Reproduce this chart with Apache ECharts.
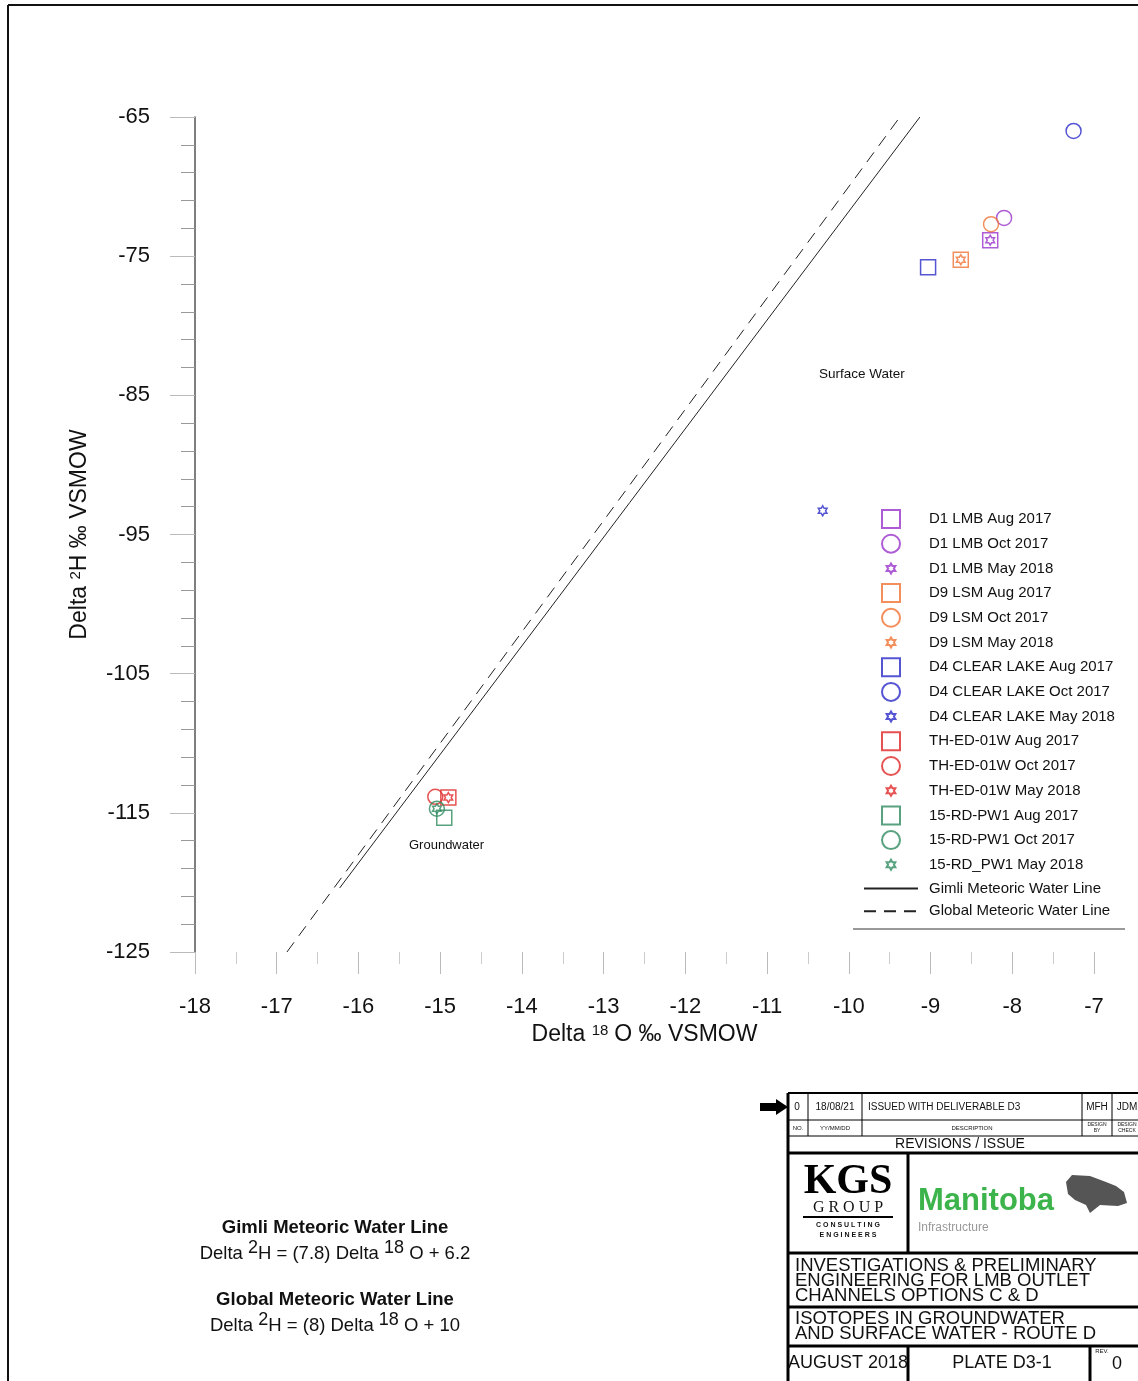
<!DOCTYPE html>
<html>
<head>
<meta charset="utf-8">
<script src="https://cdn.jsdelivr.net/npm/echarts@6/dist/echarts.min.js"></script>
<style>
html,body{margin:0;padding:0;background:#fff;}
#chart{width:1138px;height:1381px;}
</style>
</head>
<body>
<div id="chart"></div>
<script>
// ---- axis ticks ----
const xTicks = [-18, -17, -16, -15, -14, -13, -12, -11, -10, -9, -8, -7];
const yTicks = [-125, -115, -105, -95, -85, -75, -65];

// ---- data (Delta 18O, Delta 2H) ----
const d1LmbAug2017 = [[-8.27, -73.85]];
const d1LmbOct2017 = [[-8.10, -72.25]];
const d1LmbMay2018 = [[-8.27, -73.85]];
const d9LsmAug2017 = [[-8.63, -75.25]];
const d9LsmOct2017 = [[-8.26, -72.70]];
const d9LsmMay2018 = [[-8.63, -75.25]];
const d4ClearAug2017 = [[-9.03, -75.80]];
const d4ClearOct2017 = [[-7.25, -66.00]];
const d4ClearMay2018 = [[-10.32, -93.30]];
const thAug2017 = [[-14.90, -113.90]];
const thOct2017 = [[-15.06, -113.85]];
const thMay2018 = [[-14.90, -113.90]];
const rdAug2017 = [[-14.95, -115.35]];
const rdOct2017 = [[-15.04, -114.70]];
const rdMay2018 = [[-15.04, -114.70]];
const gimliLine = [[-16.23, -120.40], [-9.13, -65.00]];
const globalLine = [[-16.875, -125.00], [-9.375, -65.00]];

const seriesNames = [
  'D1 LMB Aug 2017','D1 LMB Oct 2017','D1 LMB May 2018',
  'D9 LSM Aug 2017','D9 LSM Oct 2017','D9 LSM May 2018',
  'D4 CLEAR LAKE Aug 2017','D4 CLEAR LAKE Oct 2017','D4 CLEAR LAKE May 2018',
  'TH-ED-01W Aug 2017','TH-ED-01W Oct 2017','TH-ED-01W May 2018',
  '15-RD-PW1 Aug 2017','15-RD-PW1 Oct 2017','15-RD_PW1 May 2018',
  'Gimli Meteoric Water Line','Global Meteoric Water Line'
];
const pointData = [
  d1LmbAug2017, d1LmbOct2017, d1LmbMay2018,
  d9LsmAug2017, d9LsmOct2017, d9LsmMay2018,
  d4ClearAug2017, d4ClearOct2017, d4ClearMay2018,
  thAug2017, thOct2017, thMay2018,
  rdAug2017, rdOct2017, rdMay2018
];

// ---- styles ----
const siteColors = ['#9933CC', '#F07235', '#2B2BC8', '#E02626', '#2E8B5F'];
const SQUARE = 'path://M0 0 L100 0 L100 100 L0 100 Z';
const STAR = 'path://M-80 -80 M280 280 M100 0 L128.87 50 L186.6 50 L157.7 100 L186.6 150 L128.87 150 L100 200 L71.13 150 L13.4 150 L42.3 100 L13.4 50 L71.13 50 Z';
const symbols = [SQUARE, 'circle', STAR];
const sizes = [15, 15, 18];

const series = [];
pointData.forEach((d, i) => {
  const site = Math.floor(i / 3), kind = i % 3;
  series.push({
    name: seriesNames[i],
    type: 'scatter',
    data: d,
    symbol: symbols[kind],
    symbolSize: sizes[kind],
    symbolKeepAspect: true,
    itemStyle: { color: 'rgba(0,0,0,0)', borderColor: siteColors[site], borderWidth: 1.5 },
    emphasis: { disabled: true },
    z: 5
  });
});
const hiddenSym = { color: 'rgba(0,0,0,0)', borderColor: 'rgba(0,0,0,0)', borderWidth: 0 };
series.push({
  name: seriesNames[15], type: 'line', data: gimliLine, symbol: 'none', showSymbol: false,
  itemStyle: hiddenSym,
  lineStyle: { color: '#222', width: 1, type: 'solid' }, emphasis: { disabled: true }, z: 3
});
series.push({
  name: seriesNames[16], type: 'line', data: globalLine, symbol: 'none', showSymbol: false,
  itemStyle: hiddenSym,
  lineStyle: { color: '#222', width: 1, type: [12, 8] }, emphasis: { disabled: true }, z: 3
});

const FONT = 'Liberation Sans';
const chart = echarts.init(document.getElementById('chart'), null, { renderer: 'canvas' });

const graphics = [
  // page border
  { type: 'line', shape: { x1: 8, y1: 5, x2: 1138, y2: 5 }, style: { stroke: '#111', lineWidth: 2 } },
  { type: 'line', shape: { x1: 8, y1: 5, x2: 8, y2: 1381 }, style: { stroke: '#111', lineWidth: 2 } },
  // annotation labels
  { type: 'text', left: 819, top: 367, style: { text: 'Surface Water', font: '13.5px ' + FONT, fill: '#111' } },
  { type: 'text', left: 409, top: 839, style: { text: 'Groundwater', font: '13px ' + FONT, fill: '#111' } },
  // legend bottom rule
  { type: 'line', shape: { x1: 853, y1: 929, x2: 1125, y2: 929 }, style: { stroke: '#777', lineWidth: 1.5 } },
  // equations
  { type: 'text', x: 335, y: 1228, style: { text: 'Gimli Meteoric Water Line', font: 'bold 18.5px ' + FONT, fill: '#111', textAlign: 'center', textVerticalAlign: 'middle' } },
  { type: 'text', x: 335, y: 1254, style: {
      text: 'Delta {s|2}H = (7.8) Delta {s|18} O + 6.2',
      font: '18.5px ' + FONT, fill: '#111', textAlign: 'center', textVerticalAlign: 'middle',
      rich: { s: { fontSize: 18, verticalAlign: 'top', fontFamily: FONT, padding: [0, 0, 12, 0] } } } },
  { type: 'text', x: 335, y: 1300, style: { text: 'Global Meteoric Water Line', font: 'bold 18.5px ' + FONT, fill: '#111', textAlign: 'center', textVerticalAlign: 'middle' } },
  { type: 'text', x: 335, y: 1326, style: {
      text: 'Delta {s|2}H = (8) Delta {s|18} O + 10',
      font: '18.5px ' + FONT, fill: '#111', textAlign: 'center', textVerticalAlign: 'middle',
      rich: { s: { fontSize: 18, verticalAlign: 'top', fontFamily: FONT, padding: [0, 0, 12, 0] } } } },
  // arrow
  { type: 'polygon', shape: { points: [[760, 1103], [776, 1103], [776, 1099], [788, 1107], [776, 1115], [776, 1111], [760, 1111]] }, style: { fill: '#000' } },
];

// title block lines
const L = (x1, y1, x2, y2, w) => ({ type: 'line', shape: { x1, y1, x2, y2 }, style: { stroke: '#000', lineWidth: w || 1 } });
graphics.push(
  L(788, 1093, 1138, 1093, 2),
  L(788, 1093, 788, 1381, 3),
  L(788, 1120, 1138, 1120, 1),
  L(788, 1136, 1138, 1136, 1),
  L(788, 1153, 1138, 1153, 3),
  L(808, 1093, 808, 1136, 1),
  L(862, 1093, 862, 1136, 1),
  L(1082, 1093, 1082, 1136, 1),
  L(1112, 1093, 1112, 1136, 1),
  L(908, 1153, 908, 1253, 3),
  L(788, 1253, 1138, 1253, 3),
  L(788, 1307, 1138, 1307, 3),
  L(788, 1346, 1138, 1346, 3),
  L(908, 1346, 908, 1381, 3),
  L(1090, 1346, 1090, 1381, 3)
);
const T = (x, y, text, size, opts) => Object.assign({
  type: 'text', x, y,
  style: Object.assign({ text, font: size + 'px ' + FONT, fill: '#111', textAlign: 'center', textVerticalAlign: 'middle' }, (opts || {}))
});
graphics.push(
  T(797, 1107, '0', 10),
  T(835, 1107, '18/08/21', 10),
  T(868, 1107, 'ISSUED WITH DELIVERABLE D3', 10, { textAlign: 'left' }),
  T(1097, 1107, 'MFH', 10),
  T(1127, 1107, 'JDM', 10),
  T(798, 1128, 'NO.', 6),
  T(835, 1128, 'YY/MM/DD', 6),
  T(972, 1128, 'DESCRIPTION', 6),
  T(1097, 1125, 'DESIGN', 5), T(1097, 1131, 'BY', 5),
  T(1127, 1125, 'DESIGN', 5), T(1127, 1131, 'CHECK', 5),
  T(960, 1144, 'REVISIONS / ISSUE', 14),
  // KGS logo
  T(848, 1182, 'KGS', 42, { font: 'bold 42px Liberation Serif', fill: '#000' }),
  T(848, 1208, 'G R O U P', 16, { font: '16px Liberation Serif' }),
  L(803, 1217, 893, 1217, 2),
  T(848, 1225, 'C O N S U L T I N G', 7, { font: 'bold 7px ' + FONT }),
  T(848, 1235, 'E N G I N E E R S', 7, { font: 'bold 7px ' + FONT }),
  // Manitoba logo
  T(918, 1201, 'Manitoba', 31, { font: 'bold 31px ' + FONT, fill: '#3CB44B', textAlign: 'left' }),
  T(918, 1228, 'Infrastructure', 12, { fill: '#999', textAlign: 'left' }),
  { type: 'polygon', shape: { points: [[1066, 1182], [1072, 1175], [1090, 1176], [1106, 1182], [1116, 1186], [1124, 1192], [1127, 1203], [1118, 1206], [1100, 1205], [1090, 1213], [1086, 1205], [1075, 1200], [1068, 1194]] }, style: { fill: '#555' } },
  // project
  T(795, 1266, 'INVESTIGATIONS & PRELIMINARY', 18.5, { textAlign: 'left' }),
  T(795, 1281, 'ENGINEERING FOR LMB OUTLET', 18.5, { textAlign: 'left' }),
  T(795, 1296, 'CHANNELS OPTIONS C & D', 18.5, { textAlign: 'left' }),
  T(795, 1319, 'ISOTOPES IN GROUNDWATER', 18.5, { textAlign: 'left' }),
  T(795, 1334, 'AND SURFACE WATER - ROUTE D', 18.5, { textAlign: 'left' }),
  T(848, 1363, 'AUGUST 2018', 18),
  T(1002, 1363, 'PLATE D3-1', 18),
  T(1102, 1351, 'REV.', 6),
  T(1117, 1364, '0', 18)
);

const option = {
  animation: false,
  backgroundColor: '#fff',
  grid: { left: 195, right: 44, top: 117, bottom: 429, containLabel: false },
  xAxis: {
    type: 'value', min: xTicks[0], max: xTicks[xTicks.length - 1], interval: 1,
    name: 'Delta {s|18}O ‰ VSMOW', nameLocation: 'middle', nameGap: 69,
    nameTextStyle: { fontSize: 23, fontFamily: FONT, color: '#111',
      rich: { s: { fontSize: 15, fontFamily: FONT, verticalAlign: 'top', padding: [0, 6, 8, 0] } } },
    axisLine: { show: false },
    axisTick: { show: true, length: 22, lineStyle: { color: '#bbb' } },
    minorTick: { show: true, splitNumber: 2, length: 12, lineStyle: { color: '#ccc' } },
    axisLabel: { fontSize: 22, fontFamily: FONT, color: '#111', margin: 44 },
    splitLine: { show: false }
  },
  yAxis: {
    type: 'value', min: yTicks[0], max: yTicks[yTicks.length - 1], interval: 10,
    name: 'Delta {s|2}H ‰ VSMOW', nameLocation: 'middle', nameGap: 104, nameRotate: 90,
    nameTextStyle: { fontSize: 23, fontFamily: FONT, color: '#111',
      rich: { s: { fontSize: 15, fontFamily: FONT, verticalAlign: 'top', padding: [0, 0, 8, 0] } } },
    axisLine: { show: true, lineStyle: { color: '#555', width: 1.5 } },
    axisTick: { show: true, length: 25, lineStyle: { color: '#bbb' } },
    minorTick: { show: true, splitNumber: 5, length: 14, lineStyle: { color: '#999' } },
    axisLabel: { fontSize: 22, fontFamily: FONT, color: '#111', margin: 45 },
    splitLine: { show: false }
  },
  legend: {
    orient: 'vertical', left: 863, top: 509, padding: 0,
    itemWidth: 54, itemHeight: 18, itemGap: 4.7,
    data: seriesNames,
    textStyle: { fontSize: 15, lineHeight: 18, fontFamily: FONT, color: '#111', padding: [0, 0, 0, 6] },
    selectedMode: false
  },
  series: series,
  graphic: graphics
};
chart.setOption(option);
</script>
</body>
</html>
